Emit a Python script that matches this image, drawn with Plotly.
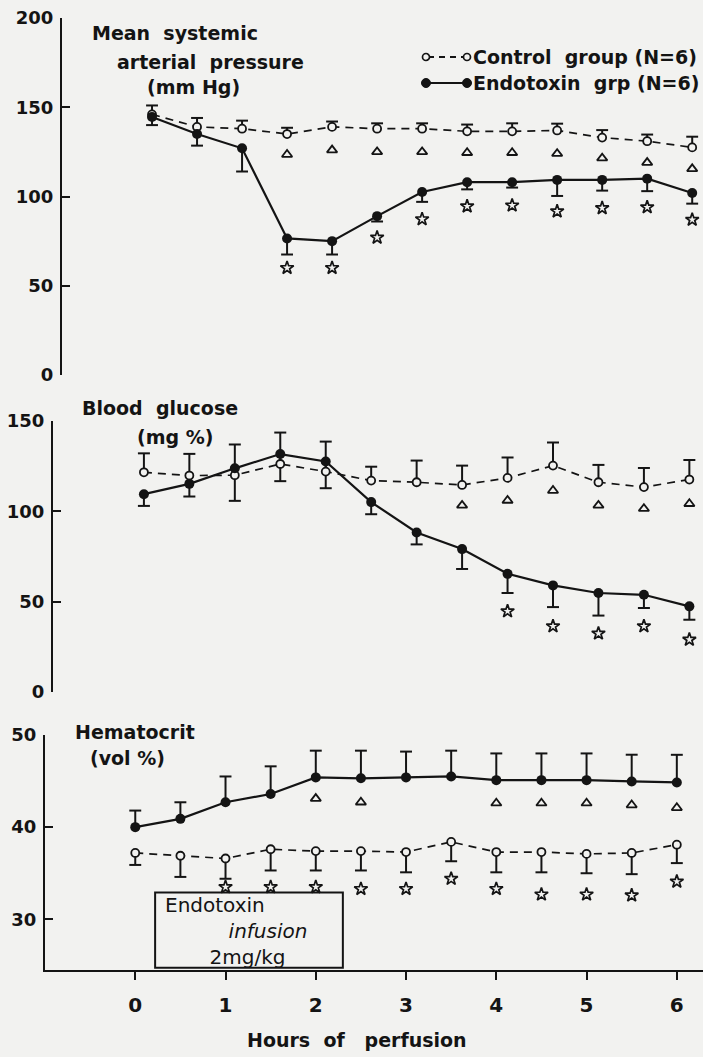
import plotly.graph_objects as go

# ---------------- data ----------------
hours = [0, 0.5, 1, 1.5, 2, 2.5, 3, 3.5, 4, 4.5, 5, 5.5, 6]

# Mean systemic arterial pressure (mm Hg)
map_control = [146, 139, 138, 135, 139, 138, 138, 136.5, 136.5, 137, 133, 131, 127.5]
map_control_se = [5, 5, 4.5, 3.5, 3, 3, 3, 3.8, 4.5, 3.8, 4.2, 3.7, 6]
map_endo = [144.5, 135, 127, 76.5, 75, 89, 102.5, 108, 108, 109.3, 109.3, 110, 102]
map_endo_se = [4.5, 6.5, 13, 9, 7.5, 3, 5.5, 4, 3, 9, 6, 7, 6]
map_tri_hours = [1.5, 2, 2.5, 3, 3.5, 4, 4.5, 5, 5.5, 6]
map_tri_vals = [123.5, 126, 125, 125, 124.5, 124.5, 124, 121.5, 119, 115.5]
map_star_hours = [1.5, 2, 2.5, 3, 3.5, 4, 4.5, 5, 5.5, 6]
map_star_vals = [60, 60, 77, 87.3, 94.5, 95, 91.7, 93.5, 94, 87]

# Blood glucose (mg %)
glu_control = [121.6, 119.8, 120, 126.2, 122, 117, 116.1, 114.6, 118.5, 125.3, 116.1, 113.4, 117.6]
glu_control_se = [10.5, 12, 17, 17.4, 16.6, 7.7, 12, 10.7, 11.3, 12.8, 9.6, 10.6, 10.8]
glu_endo = [109.5, 115.2, 123.8, 131.7, 127.6, 105.1, 88.3, 79.1, 65.4, 59, 54.8, 53.8, 47.4]
glu_endo_se = [6.5, 7, 18, 15, 14.8, 6.7, 6.6, 11, 10.6, 12, 12.5, 7.3, 7.4]
glu_tri_hours = [3.5, 4, 4.5, 5, 5.5, 6]
glu_tri_vals = [103.3, 106, 111.5, 103.3, 101.5, 104.2]
glu_star_hours = [4, 4.5, 5, 5.5, 6]
glu_star_vals = [44.7, 36.4, 32.4, 36.4, 29]

# Hematocrit (vol %)
hct_control = [37.2, 36.9, 36.6, 37.6, 37.4, 37.4, 37.3, 38.4, 37.3, 37.3, 37.1, 37.2, 38.1]
hct_control_se = [1.3, 2.3, 2.2, 2.3, 2.1, 2.1, 2.2, 2.1, 2.2, 2.2, 2.1, 2.3, 2.0]
hct_endo = [40, 40.9, 42.7, 43.6, 45.4, 45.3, 45.4, 45.5, 45.1, 45.1, 45.1, 44.96, 44.85]
hct_endo_se = [1.8, 1.8, 2.8, 3.0, 2.9, 3.0, 2.8, 2.8, 2.9, 2.9, 2.9, 2.9, 3.0]
hct_tri_hours = [2, 2.5, 4, 4.5, 5, 5.5, 6]
hct_tri_vals = [43.1, 42.7, 42.6, 42.6, 42.6, 42.4, 42.1]
hct_star_hours = [1, 1.5, 2, 2.5, 3, 3.5, 4, 4.5, 5, 5.5, 6]
hct_star_vals = [33.5, 33.5, 33.5, 33.3, 33.3, 34.4, 33.3, 32.7, 32.7, 32.6, 34.1]

x_ticks = [0, 1, 2, 3, 4, 5, 6]
map_ticks = [0, 50, 100, 150, 200]
glu_ticks = [0, 50, 100, 150]
hct_ticks = [30, 40, 50]

# ---------------- style ----------------
W, H = 703, 1057
BG = "#f2f2f0"
INK = "#141414"
FONT = "DejaVu Sans"
CAP = 0.066
NB = "\u00a0"


def err_xy(xs, ys, se, sign):
    ex, ey = [], []
    for x, y, s in zip(xs, ys, se):
        e = y + sign * s
        ex += [x, x, None, x - CAP, x + CAP, None]
        ey += [y, e, None, e, e, None]
    return ex, ey


fig = go.Figure()


def panel(xa, ya, ctrl, ctrl_se, ctrl_sign, endo, endo_se, endo_sign,
          tri_h, tri_v, star_h, star_v):
    ex, ey = err_xy(hours, ctrl, ctrl_se, ctrl_sign)
    fig.add_trace(go.Scatter(x=ex, y=ey, mode="lines", xaxis=xa, yaxis=ya,
                             line=dict(color=INK, width=2), hoverinfo="skip"))
    ex, ey = err_xy(hours, endo, endo_se, endo_sign)
    fig.add_trace(go.Scatter(x=ex, y=ey, mode="lines", xaxis=xa, yaxis=ya,
                             line=dict(color=INK, width=2), hoverinfo="skip"))
    fig.add_trace(go.Scatter(x=hours, y=ctrl, mode="lines+markers", xaxis=xa, yaxis=ya,
                             line=dict(color=INK, width=1.7, dash="8px,6px"),
                             marker=dict(symbol="circle", size=8, color=BG,
                                         line=dict(color=INK, width=1.8))))
    fig.add_trace(go.Scatter(x=hours, y=endo, mode="lines+markers", xaxis=xa, yaxis=ya,
                             line=dict(color=INK, width=2.2),
                             marker=dict(symbol="circle", size=10, color=INK)))
    fig.add_trace(go.Scatter(x=tri_h, y=tri_v, mode="markers", xaxis=xa, yaxis=ya,
                             marker=dict(symbol="triangle-up-open", size=9,
                                         color=INK, line=dict(color=INK, width=1.8))))
    fig.add_trace(go.Scatter(x=star_h, y=star_v, mode="markers", xaxis=xa, yaxis=ya,
                             marker=dict(symbol="star-open", size=10,
                                         color=INK, line=dict(color=INK, width=1.7))))


panel("x", "y", map_control, map_control_se, 1, map_endo, map_endo_se, -1,
      map_tri_hours, map_tri_vals, map_star_hours, map_star_vals)
panel("x2", "y2", glu_control, glu_control_se, 1, glu_endo, glu_endo_se, -1,
      glu_tri_hours, glu_tri_vals, glu_star_hours, glu_star_vals)
panel("x3", "y3", hct_control, hct_control_se, -1, hct_endo, hct_endo_se, 1,
      hct_tri_hours, hct_tri_vals, hct_star_hours, hct_star_vals)


def py(p):
    return 1 - p / H


def px(p):
    return p / W


yax_common = dict(showgrid=False, zeroline=False, showline=True, linewidth=2,
                  linecolor=INK, ticks="inside", ticklen=8, tickwidth=2,
                  tickcolor=INK, automargin=False, ticklabelstandoff=3,
                  tickfont=dict(family=FONT, size=18, color=INK, weight="bold"))

fig.update_layout(
    width=W, height=H, showlegend=False,
    paper_bgcolor=BG, plot_bgcolor="rgba(0,0,0,0)",
    margin=dict(l=0, r=0, t=0, b=0, autoexpand=False),
    xaxis=dict(domain=[px(62), 1], range=[-1, 6.12], visible=False, anchor="y",
               automargin=False),
    yaxis=dict(domain=[py(375), py(18)], range=[0, 200], tickvals=map_ticks,
               anchor="x", **yax_common),
    xaxis2=dict(domain=[px(53), 1], range=[-1, 6.15], visible=False, anchor="y2",
                automargin=False),
    yaxis2=dict(domain=[py(692), py(421)], range=[0, 150], tickvals=glu_ticks,
                anchor="x2", **yax_common),
    xaxis3=dict(domain=[px(45), 1], range=[-1, 6.29], anchor="y3", automargin=False,
                showgrid=False, zeroline=False, showline=True, linewidth=2,
                linecolor=INK, ticks="outside", ticklen=8, tickwidth=2, tickcolor=INK,
                tickvals=x_ticks, ticklabelstandoff=8,
                tickfont=dict(family=FONT, size=20, color=INK, weight="bold")),
    yaxis3=dict(domain=[py(970), py(735)], range=[24.5, 50], tickvals=hct_ticks,
                anchor="x3", **yax_common),
)


def label(text, x, y, size=19, weight="bold", anchor="left"):
    fig.add_annotation(text=text, x=px(x), y=py(y), xref="paper", yref="paper",
                       xanchor=anchor, yanchor="middle", showarrow=False,
                       font=dict(family=FONT, size=size, color=INK, weight=weight))


label(f"Mean{NB}{NB}systemic", 90, 33)
label(f"arterial{NB}{NB}pressure", 115, 62)
label(f"(mm{NB}Hg)", 145, 87)
label(f"Blood{NB}{NB}glucose", 80, 408)
label(f"(mg{NB}%)", 135, 437)
label("Hematocrit", 73, 732)
label(f"(vol{NB}%)", 88, 758)

# legend
label(f"Control{NB}{NB}group{NB}(N=6)", 471, 57)
label(f"Endotoxin{NB}{NB}grp{NB}(N=6)", 471, 83)
fig.add_shape(type="line", xref="paper", yref="paper", x0=px(428), x1=px(464),
              y0=py(57), y1=py(57), line=dict(color=INK, width=1.8, dash="6px,5px"))
fig.add_shape(type="line", xref="paper", yref="paper", x0=px(428), x1=px(464),
              y0=py(83), y1=py(83), line=dict(color=INK, width=2.2))
for cx in (426, 467):
    fig.add_shape(type="circle", xref="paper", yref="paper",
                  x0=px(cx - 3.5), x1=px(cx + 3.5), y0=py(57 + 3.5), y1=py(57 - 3.5),
                  fillcolor=BG, line=dict(color=INK, width=1.7))
    fig.add_shape(type="circle", xref="paper", yref="paper",
                  x0=px(cx - 4.5), x1=px(cx + 4.5), y0=py(83 + 4.5), y1=py(83 - 4.5),
                  fillcolor=INK, line=dict(color=INK, width=1))

# infusion box
fig.add_shape(type="rect", xref="x3", yref="y3", x0=0.22, x1=2.3, y0=24.75, y1=32.9,
              line=dict(color=INK, width=2), fillcolor="rgba(0,0,0,0)")
fig.add_annotation(
    text=("Endotoxin<br>" + NB * 10 + "<i>infusion</i><br>" + NB * 7 + "2mg/kg"),
    x=px(163), y=py(931), xref="paper", yref="paper", xanchor="left",
    yanchor="middle", align="left", showarrow=False,
    font=dict(family=FONT, size=20, color=INK))

# x-axis title
label(f"Hours{NB}{NB}of{NB}{NB}{NB}perfusion", 357, 1040, anchor="center")

fig.write_html("out.html",
               config={"displayModeBar": False},
               post_script="document.body.style.margin='0';"
                           "document.body.style.overflow='hidden';"
                           "document.body.style.background='" + BG + "';")
